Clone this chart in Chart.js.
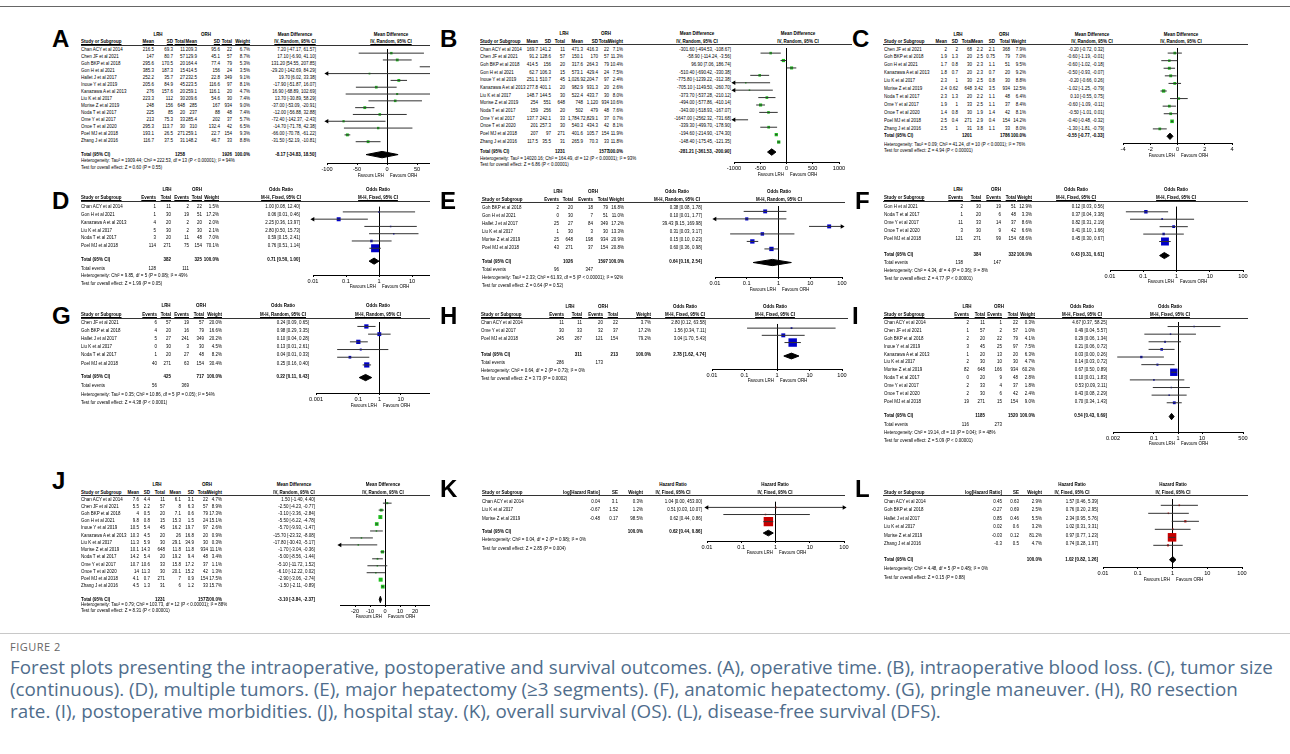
<!DOCTYPE html>
<html>
<head>
<meta charset="utf-8">
<script src="https://cdn.jsdelivr.net/npm/chart.js@4.4.1/dist/chart.umd.min.js"></script>
<style>
body{margin:0;background:#fff;font-family:"Liberation Sans",Arial,sans-serif;}
#page{position:relative;width:1290px;height:754px;overflow:hidden;}
.col{position:absolute;top:0;height:630px;overflow:hidden;}
.t{position:absolute;white-space:nowrap;line-height:1;color:#000;transform-origin:0 0;}
.b{font-weight:bold;}
.u{text-decoration:underline;}
.letter{position:absolute;font-weight:bold;font-size:24px;line-height:24px;color:#000;}
.rule{position:absolute;height:1px;background:#333;}
canvas{position:absolute;}
.cap{position:absolute;left:10px;white-space:nowrap;line-height:1;font-family:"Open Sans",sans-serif;}
</style>
</head>
<body>
<div id="page"></div>
<script>
// ---------- A: operative time ----------
const studiesA = ['Chan ACY et al 2014','Chen JF et al 2021','Goh BKP et al 2018','Gon H et al 2021','Hallet J et al 2017','Inoue Y et al 2019','Kanazawa A et al 2013','Liu K et al 2017','Morise Z et al 2019','Noda T et al 2017','Ome Y et al 2017','Onoe T et al 2020','Poel MJ et al 2018','Zhang J et al 2016'];
const cellsA = [['216.5','69.3','11','209.3','95.6','22'],['147','80.7','57','129.9','45.1','57'],['295.6','170.5','20','164.4','77.4','79'],['385.3','187.3','15','414.5','156','24'],['252.2','35.7','27','232.5','22.8','349'],['205.6','84.9','45','223.5','116.6','97'],['276','157.6','20','259.1','116.1','20'],['223.3','112','30','209.6','54.6','30'],['248','156','648','285','167','934'],['225','85','20','237','88','48'],['213','75.3','33','285.4','202','37'],['295.3','113.7','30','310','132.4','42'],['193.1','26.5','271','259.1','22.7','154'],['116.7','37.5','31','148.2','46.7','33']];
const weightA = [6.7,8.7,5.3,3.5,9.1,8.1,4.7,7.4,9.0,7.4,5.7,6.5,9.3,8.8];
const estA = [7.20,17.10,131.20,-29.20,19.70,-17.90,16.90,13.70,-37.00,-12.00,-72.40,-14.70,-66.00,-31.50];
const lowA = [-47.17,-6.90,54.55,-142.69,6.02,-51.87,-68.89,-30.89,-53.09,-56.88,-142.37,-71.78,-70.78,-52.19];
const highA = [61.57,41.10,207.85,84.29,33.38,16.07,102.69,58.29,-20.91,32.88,-2.43,42.38,-61.22,-10.81];
const nTotA = [1258,1926];
const ciTotA = [-8.17,-34.83,18.50];
const hetA = 'Heterogeneity: Tau² = 1909.44; Chi² = 222.53, df = 13 (P < 0.00001); I² = 94%';
const testA = 'Test for overall effect: Z = 0.60 (P = 0.55)';
const ticksA = [-100,-50,0,50,100];

// ---------- B: intraoperative blood loss ----------
const studiesB = ['Chan ACY et al 2014','Chen JF et al 2021','Goh BKP et al 2018','Gon H et al 2021','Inoue Y et al 2019','Kanazawa A et al 2013','Liu K et al 2017','Morise Z et al 2019','Noda T et al 2017','Ome Y et al 2017','Onoe T et al 2020','Poel MJ et al 2018','Zhang J et al 2016'];
const cellsB = [['169.7','141.2','11','471.3','416.3','22'],['91.2','128.6','57','150.1','170','57'],['414.5','156','20','317.6','264.3','79'],['62.7','106.3','15','573.1','429.4','24'],['251.1','510.7','45','1,026.9','2,204.7','97'],['277.8','401.1','20','982.9','931.3','20'],['148.7','144.5','30','522.4','433.7','30'],['254','551','648','748','1,120','934'],['159','256','20','502','479','48'],['137.7','242.1','33','1,784.7','2,829.1','37'],['201','257.3','30','540.3','434.3','42'],['207','97','271','401.6','105.7','154'],['117.5','35.5','31','265.9','70.3','33']];
const weightB = [7.1,11.3,10.4,7.5,2.4,2.6,8.0,10.6,7.6,0.7,8.1,11.9,11.8];
const estB = [-301.60,-58.90,96.90,-510.40,-775.80,-705.10,-373.70,-494.00,-343.00,-1647.00,-339.30,-194.60,-148.40];
const lowB = [-494.53,-114.24,7.06,-690.42,-1239.22,-1149.50,-537.28,-577.86,-518.93,-2562.32,-499.70,-214.90,-175.45];
const highB = [-108.67,-3.56,186.74,-330.38,-312.38,-260.70,-210.12,-410.14,-167.07,-731.68,-178.90,-174.30,-121.35];
const nTotB = [1231,1577];
const ciTotB = [-281.21,-361.53,-200.90];
const hetB = 'Heterogeneity: Tau² = 14020.16; Chi² = 164.49, df = 12 (P < 0.00001); I² = 93%';
const testB = 'Test for overall effect: Z = 6.86 (P < 0.00001)';
const ticksB = [-1000,-500,0,500,1000];

// ---------- C: tumor size ----------
const studiesC = ['Chen JF et al 2021','Goh BKP et al 2018','Gon H et al 2021','Kanazawa A et al 2013','Liu K et al 2017','Morise Z et al 2019','Noda T et al 2017','Ome Y et al 2017','Onoe T et al 2020','Poel MJ et al 2018','Zhang J et al 2016'];
const cellsC = [['2','2','68','2.2','2.1','368'],['1.9','1.3','20','2.5','0.75','79'],['1.7','0.8','30','2.3','1.1','51'],['1.8','0.7','20','2.3','0.7','20'],['2.3','1','30','2.5','0.8','30'],['2.4','0.62','648','3.42','3.5','934'],['2.3','1.3','20','2.2','1.1','48'],['1.9','1','33','2.5','1.1','37'],['1.4','0.8','30','1.9','1.4','42'],['2.5','0.4','271','2.9','0.4','154'],['2.5','1','31','3.8','1.1','33']];
const weightC = [7.9,7.0,9.5,9.2,8.8,12.5,6.4,8.4,8.1,14.2,8.0];
const estC = [-0.20,-0.60,-0.60,-0.50,-0.20,-1.02,0.10,-0.60,-0.50,-0.40,-1.30];
const lowC = [-0.72,-1.19,-1.02,-0.93,-0.66,-1.25,-0.55,-1.09,-1.01,-0.48,-1.81];
const highC = [0.32,-0.01,-0.18,-0.07,0.26,-0.79,0.75,-0.11,0.01,-0.32,-0.79];
const nTotC = [1201,1786];
const ciTotC = [-0.55,-0.77,-0.33];
const hetC = 'Heterogeneity: Tau² = 0.09; Chi² = 41.24, df = 10 (P < 0.0001); I² = 76%';
const testC = 'Test for overall effect: Z = 4.94 (P < 0.00001)';
const ticksC = [-4,-2,0,2,4];

// ---------- D: multiple tumors ----------
const studiesD = ['Chan ACY et al 2014','Gon H et al 2021','Kanazawa A et al 2013','Liu K et al 2017','Noda T et al 2017','Poel MJ et al 2018'];
const cellsD = [['1','11','2','22'],['1','30','19','51'],['4','20','2','20'],['5','30','2','30'],['3','20','11','48'],['114','271','75','154']];
const weightD = [1.5,17.2,2.0,2.1,7.0,70.1];
const estD = [1.00,0.06,2.25,2.80,0.59,0.76];
const lowD = [0.08,0.008,0.36,0.50,0.15,0.51];
const highD = [12.40,0.46,13.97,15.73,2.41,1.14];
const nTotD = [382,325];
const ciTotD = [0.71,0.50,1.00];
const eventsD = [128,111];
const hetD = 'Heterogeneity: Chi² = 9.85, df = 5 (P = 0.08); I² = 49%';
const testD = 'Test for overall effect: Z = 1.99 (P = 0.05)';
const ticksD = [0.01,0.1,1,10,100];

// ---------- E: major hepatectomy ----------
const studiesE = ['Goh BKP et al 2018','Gon H et al 2021','Hallet J et al 2017','Liu K et al 2017','Morise Z et al 2019','Poel MJ et al 2018'];
const cellsE = [['2','20','18','79'],['0','30','7','51'],['25','27','84','349'],['1','30','3','30'],['25','648','198','934'],['43','271','37','154']];
const weightE = [16.8,11.0,17.2,13.3,20.9,20.8];
const estE = [0.38,0.10,39.43,0.31,0.15,0.60];
const lowE = [0.08,0.006,9.15,0.03,0.10,0.36];
const highE = [1.78,1.77,169.98,3.17,0.23,0.98];
const nTotE = [1026,1597];
const ciTotE = [0.64,0.16,2.54];
const eventsE = [96,347];
const hetE = 'Heterogeneity: Tau² = 2.33; Chi² = 61.93, df = 5 (P < 0.00001); I² = 92%';
const testE = 'Test for overall effect: Z = 0.64 (P = 0.52)';
const ticksE = [0.01,0.1,1,10,100];

// ---------- F: anatomic hepatectomy ----------
const studiesF = ['Gon H et al 2021','Noda T et al 2017','Ome Y et al 2017','Onoe T et al 2020','Poel MJ et al 2018'];
const cellsF = [['2','30','19','51'],['1','20','6','48'],['11','33','14','37'],['3','30','9','42'],['121','271','99','154']];
const weightF = [12.9,3.3,8.6,6.6,68.6];
const estF = [0.12,0.37,0.82,0.41,0.45];
const lowF = [0.03,0.04,0.31,0.10,0.30];
const highF = [0.56,3.38,2.19,1.66,0.67];
const nTotF = [384,332];
const ciTotF = [0.43,0.31,0.61];
const eventsF = [138,147];
const hetF = 'Heterogeneity: Chi² = 4.34, df = 4 (P = 0.36); I² = 8%';
const testF = 'Test for overall effect: Z = 4.77 (P < 0.00001)';
const ticksF = [0.01,0.1,1,10,100];

// ---------- G: pringle maneuver ----------
const studiesG = ['Chen JF et al 2021','Goh BKP et al 2018','Hallet J et al 2017','Liu K et al 2017','Noda T et al 2017','Poel MJ et al 2018'];
const cellsG = [['6','57','19','57'],['4','20','16','79'],['5','27','241','349'],['0','30','3','30'],['1','20','27','48'],['40','271','63','154']];
const weightG = [20.0,16.6,20.2,4.5,8.2,30.4];
const estG = [0.24,0.98,0.10,0.13,0.04,0.25];
const lowG = [0.09,0.29,0.04,0.01,0.01,0.16];
const highG = [0.65,3.35,0.28,2.61,0.33,0.40];
const nTotG = [425,717];
const ciTotG = [0.22,0.11,0.43];
const eventsG = [56,369];
const hetG = 'Heterogeneity: Tau² = 0.35; Chi² = 10.86, df = 5 (P = 0.05); I² = 54%';
const testG = 'Test for overall effect: Z = 4.38 (P < 0.0001)';
const ticksG = [0.001,0.1,1,10,1000];

// ---------- H: R0 resection ----------
const studiesH = ['Chan ACY et al 2014','Ome Y et al 2017','Poel MJ et al 2018'];
const cellsH = [['11','11','20','22'],['30','33','32','37'],['245','267','121','154']];
const weightH = [3.7,17.2,79.2];
const estH = [2.80,1.56,3.04];
const lowH = [0.12,0.34,1.70];
const highH = [63.58,7.11,5.43];
const nTotH = [311,213];
const ciTotH = [2.78,1.62,4.74];
const eventsH = [286,173];
const hetH = 'Heterogeneity: Chi² = 0.64, df = 2 (P = 0.73); I² = 0%';
const testH = 'Test for overall effect: Z = 3.73 (P = 0.0002)';
const ticksH = [0.01,0.1,1,10,100];

// ---------- I: postoperative morbidities ----------
const studiesI = ['Chan ACY et al 2014','Chen JF et al 2021','Goh BKP et al 2018','Inoue Y et al 2019','Kanazawa A et al 2013','Liu K et al 2017','Morise Z et al 2019','Noda T et al 2017','Ome Y et al 2017','Onoe T et al 2020','Poel MJ et al 2018'];
const cellsI = [['2','11','1','22'],['1','57','2','57'],['2','20','22','79'],['3','45','25','97'],['1','20','13','20'],['2','30','10','30'],['82','648','166','934'],['0','20','9','48'],['2','33','4','37'],['2','30','6','42'],['19','271','15','154']];
const weightI = [0.3,1.0,4.1,7.5,6.3,4.7,60.2,2.8,1.8,2.4,9.0];
const estI = [4.67,0.49,0.29,0.21,0.03,0.14,0.67,0.10,0.53,0.43,0.70];
const lowI = [0.37,0.04,0.06,0.06,0.003,0.03,0.50,0.01,0.09,0.08,0.34];
const highI = [58.25,5.57,1.34,0.72,0.26,0.72,0.89,1.83,3.11,2.29,1.43];
const nTotI = [1185,1520];
const ciTotI = [0.54,0.43,0.69];
const eventsI = [116,273];
const hetI = 'Heterogeneity: Chi² = 19.14, df = 10 (P = 0.04); I² = 48%';
const testI = 'Test for overall effect: Z = 5.09 (P < 0.00001)';
const ticksI = [0.002,0.1,1,10,500];

// ---------- J: hospital stay ----------
const studiesJ = ['Chan ACY et al 2014','Chen JF et al 2021','Goh BKP et al 2018','Gon H et al 2021','Inoue Y et al 2019','Kanazawa A et al 2013','Liu K et al 2017','Morise Z et al 2019','Noda T et al 2017','Ome Y et al 2017','Onoe T et al 2020','Poel MJ et al 2018','Zhang J et al 2016'];
const cellsJ = [['7.6','4.4','11','6.1','3.1','22'],['5.5','2.2','57','8','6.3','57'],['4','0.5','20','7.1','0.6','79'],['9.8','0.8','15','15.3','1.5','24'],['10.5','5.4','45','16.2','19.7','97'],['10.3','4.5','20','26','16.8','20'],['11.3','5.9','30','29.1','34.9','30'],['10.1','14.3','648','11.8','11.8','934'],['14.2','5.4','20','19.2','9.4','48'],['10.7','10.6','33','15.8','17.2','37'],['14','11.3','30','20.1','15.2','42'],['4.1','0.7','271','7','0.9','154'],['4.5','1.3','31','6','1.2','33']];
const weightJ = [4.7,8.9,17.3,15.1,2.6,0.9,0.3,11.1,3.4,1.1,1.3,17.5,15.7];
const estJ = [1.50,-2.50,-3.10,-5.50,-5.70,-15.70,-17.80,-1.70,-5.00,-5.10,-6.10,-2.90,-1.50];
const lowJ = [-1.40,-4.23,-3.36,-6.22,-9.93,-23.32,-30.43,-3.04,-8.56,-11.72,-12.22,-3.06,-2.11];
const highJ = [4.40,-0.77,-2.84,-4.78,-1.47,-8.08,-5.17,-0.36,-1.44,1.52,0.02,-2.74,-0.89];
const nTotJ = [1231,1577];
const ciTotJ = [-3.10,-3.84,-2.37];
const hetJ = 'Heterogeneity: Tau² = 0.79; Chi² = 103.73, df = 12 (P < 0.00001); I² = 88%';
const testJ = 'Test for overall effect: Z = 8.31 (P < 0.00001)';
const ticksJ = [-20,-10,0,10,20];
const rangeJ = [-30,30];

// ---------- K: overall survival ----------
const studiesK = ['Chan ACY et al 2014','Liu K et al 2017','Morise Z et al 2019'];
const cellsK = [['0.04','3.1'],['-0.67','1.52'],['-0.48','0.17']];
const weightK = [0.3,1.2,98.5];
const estK = [1.04,0.51,0.62];
const lowK = [0.0024,0.03,0.44];
const highK = [453.00,10.07,0.86];
const ciTotK = [0.62,0.44,0.86];
const hetK = 'Heterogeneity: Chi² = 0.04, df = 2 (P = 0.98); I² = 0%';
const testK = 'Test for overall effect: Z = 2.85 (P = 0.004)';
const ticksK = [0.01,0.1,1,10,100];

// ---------- L: disease-free survival ----------
const studiesL = ['Chan ACY et al 2014','Goh BKP et al 2018','Hallet J et al 2017','Liu K et al 2017','Morise Z et al 2019','Zhang J et al 2016'];
const cellsL = [['0.45','0.63'],['-0.27','0.69'],['0.85','0.46'],['0.02','0.6'],['-0.03','0.12'],['-0.3','0.5']];
const weightL = [2.9,2.5,5.5,3.2,81.2,4.7];
const estL = [1.57,0.76,2.34,1.02,0.97,0.74];
const lowL = [0.46,0.20,0.95,0.31,0.77,0.28];
const highL = [5.39,2.95,5.76,3.31,1.23,1.97];
const ciTotL = [1.02,0.82,1.26];
const hetL = 'Heterogeneity: Chi² = 4.48, df = 5 (P = 0.48); I² = 0%';
const testL = 'Test for overall effect: Z = 0.15 (P = 0.88)';
const ticksL = [0.01,0.1,1,10,100];

const captionLines = [
  'Forest plots presenting the intraoperative, postoperative and survival outcomes. (A), operative time. (B), intraoperative blood loss. (C), tumor size',
  '(continuous). (D), multiple tumors. (E), major hepatectomy (≥3 segments). (F), anatomic hepatectomy. (G), pringle maneuver. (H), R0 resection',
  'rate. (I), postoperative morbidities. (J), hospital stay. (K), overall survival (OS). (L), disease-free survival (DFS).'
];

// ---------- layout (page pixels) ----------
const K = 0.8;   // horizontal squeeze of the table text
const FS = 5.6;
const colX = [0, 430, 852], colW = [430, 422, 438];
const GREEN = '#1fbf1f', BLUE = '#0000c8', RED = '#c80000';

const layA = {col:0, letter:[52,30], h1:34.3, h2:41.7, rule:45, ruleX:[80.5,470], y0:49.3, dy:7.05, tot:154.3, het:160.5, test:167.5, axis:163.3,
  nameX:80.7, colR:[154.3,172.7,185,196.7,220,231.7], wR:250, ciR:315.7, grp:[158,206.3], ciHd:295, plotHd:390.7, px:[326.7,447]};
const layB = {col:1, letter:[440,30], h1:34, h2:41.3, rule:44.3, ruleX:[480,852], y0:49.3, dy:7.67, tot:151.7, het:158.5, test:165, axis:162.3,
  nameX:480, colR:[538.3,551,565,583.3,598.3,609], wR:622.7, ciR:730.7, grp:[564,606], ciHd:696.7, plotHd:798.3, px:[734.3,839]};
const layC = {col:2, letter:[852,30], h1:34.3, h2:41.7, rule:44.3, ruleX:[883,1248], y0:49.3, dy:7.9, tot:136, het:145, test:150.7, axis:143.3,
  nameX:884, colR:[946.7,958.3,972.3,983.3,995,1010], wR:1025.7, ciR:1104.3, grp:[957.5,1004], ciHd:1092, plotHd:1181, px:[1123,1231.7]};
const layD = {col:0, letter:[52,192], h1:189.3, h2:197.7, rule:200.7, ruleX:[80.5,470], y0:206.7, dy:7.87, tot:260, ev:269, het:276, test:283.3, axis:275,
  nameX:80.7, colR:[156,170.7,189.3,201.7], wR:219.3, ciR:300, grp:[167,197], ciHd:281.3, plotHd:378.3, px:[313.3,445.3]};
const layE = {col:1, letter:[440,192], h1:191.7, h2:199.3, rule:201.7, ruleX:[481,845], y0:207.7, dy:7.93, tot:261.7, ev:270, het:277.3, test:286, axis:277.3,
  nameX:481.7, colR:[559,573.3,593.3,608.3], wR:624.3, ciR:701.7, grp:[557.7,592.5], ciHd:676.7, plotHd:779.3, px:[715,842]};
const layF = {col:2, letter:[855,192], h1:190, h2:197.7, rule:200.7, ruleX:[883,1248], y0:206.7, dy:8.08, tot:254.3, ev:262.7, het:271, test:278.3, axis:270,
  nameX:884, colR:[963.3,981,1001,1015.7], wR:1032.3, ciR:1104.3, grp:[958.3,995.5], ciHd:1076, plotHd:1176, px:[1110,1243.3]};
const layG = {col:0, letter:[52,307], h1:306, h2:315, rule:318.3, ruleX:[80.5,470], y0:322.7, dy:8.13, tot:376.7, ev:386, het:394.3, test:402.3, axis:393.3,
  nameX:80.7, colR:[156.7,170.7,189.3,204], wR:221.7, ciR:309.3, grp:[166,200.8], ciHd:282.5, plotHd:377.5, px:[315.7,442.3]};
const layH = {col:1, letter:[440,307], h1:306.7, h2:315, rule:318.3, ruleX:[481,848], y0:322.7, dy:8.17, tot:354.3, ev:362.3, het:370.7, test:378.3, axis:369,
  nameX:481, colR:[564.3,581.7,603.3,617.7], wR:650.7, ciR:705.7, grp:[570,603], ciHd:685, plotHd:775, px:[711.7,841.7]};
const layI = {col:2, letter:[852,307], h1:306.7, h2:315, rule:318.3, ruleX:[883,1248], y0:322.7, dy:7.9, tot:416, ev:424.3, het:432.7, test:441, axis:431.7,
  nameX:884, colR:[969,985,1001.7,1018.3], wR:1035, ciR:1107.3, grp:[967,999], ciHd:1081.7, plotHd:1170, px:[1113.3,1243.3]};
const layJ = {col:0, letter:[52,472], h1:484.3, h2:492.3, rule:495, ruleX:[80.5,470], y0:499.3, dy:7.22, tot:599.3, het:605, test:611, axis:605,
  nameX:80.7, colR:[139.3,150,165,180.7,194,208.3], wR:221.7, ciR:315, grp:[157,206.7], ciHd:293.5, plotHd:382.5, px:[340,430]};
const layK = {col:1, letter:[440,480], h1:484.3, h2:492.3, rule:495, ruleX:[482,845], y0:501.7, dy:8.33, tot:531.7, het:540, test:548.3, axis:540.7,
  nameX:481.7, colR:[600,618.3], wR:643.3, ciR:701.7, ciHd:673.2, plotHd:775, px:[706.7,843.3]};
const layL = {col:2, letter:[855,480], h1:484.3, h2:492.3, rule:495, ruleX:[883,1248], y0:501.7, dy:8.47, tot:559.3, het:569, test:577.7, axis:567.3,
  nameX:884, colR:[1001.7,1019.3], wR:1041.7, ciR:1097.7, ciHd:1071.7, plotHd:1172.5, px:[1103.3,1242.7]};
const capLay = {rule:633, fig:647, line0:668, pitch:22, width:1264};

// ---------- drawing ----------
Chart.defaults.font.family = '"Liberation Sans", Arial, sans-serif';
const page = document.getElementById('page');
const cols = colX.map((x, i) => {
  const d = document.createElement('div');
  d.className = 'col';
  d.style.left = x + 'px';
  d.style.width = colW[i] + 'px';
  page.appendChild(d);
  return d;
});

function txt(c, s, x, y, al, cls) {
  const d = document.createElement('div');
  d.className = 't' + (cls ? ' ' + cls : '');
  d.textContent = s;
  d.style.fontSize = FS + 'px';
  d.style.left = (x - colX[c]) + 'px';
  d.style.top = (y - FS * 0.49) + 'px';
  const sh = al === 'r' ? ' translateX(-100%)' : al === 'c' ? ' translateX(-50%)' : '';
  d.style.transform = 'scaleX(' + K + ')' + sh;
  cols[c].appendChild(d);
}
const f2 = v => v.toFixed(2);
const ciText = (e, l, h) => f2(e) + ' [' + f2(l) + ', ' + f2(h) + ']';

function table(L, D) {
  const c = L.col;
  const lt = document.createElement('div');
  lt.className = 'letter';
  lt.textContent = D.letter;
  lt.style.left = (L.letter[0] - colX[c]) + 'px';
  lt.style.top = (L.letter[1] - 3) + 'px';
  cols[c].appendChild(lt);

  const measure = {md:'Mean Difference', or:'Odds Ratio', hr:'Hazard Ratio'}[D.kind];
  const hdr = {md:['Mean','SD','Total','Mean','SD','Total'], or:['Events','Total','Events','Total'], hr:['log[Hazard Ratio]','SE']}[D.kind];
  if (L.grp) { txt(c, 'LRH', L.grp[0], L.h1, 'c', 'b'); txt(c, 'ORH', L.grp[1], L.h1, 'c', 'b'); }
  txt(c, measure, L.ciHd, L.h1, 'c', 'b');
  txt(c, measure, L.plotHd, L.h1, 'c', 'b');
  txt(c, 'Study or Subgroup', L.nameX, L.h2, 'l', 'b u');
  hdr.forEach((h, j) => txt(c, h, L.colR[j], L.h2, 'r', 'b u'));
  txt(c, 'Weight', L.wR, L.h2, 'r', 'b u');
  txt(c, D.model, L.ciHd, L.h2, 'c', 'b u');
  txt(c, D.model, L.plotHd, L.h2, 'c', 'b u');
  const r = document.createElement('div');
  r.className = 'rule';
  r.style.left = (L.ruleX[0] - colX[c]) + 'px';
  r.style.width = (L.ruleX[1] - L.ruleX[0]) + 'px';
  r.style.top = Math.round(L.rule) + 'px';
  cols[c].appendChild(r);

  D.studies.forEach((s, i) => {
    const y = L.y0 + i * L.dy;
    txt(c, s, L.nameX, y, 'l');
    D.cells[i].forEach((v, j) => txt(c, v, L.colR[j], y, 'r'));
    txt(c, D.weight[i].toFixed(1) + '%', L.wR, y, 'r');
    txt(c, ciText(D.est[i], D.low[i], D.high[i]), L.ciR, y, 'r');
  });
  txt(c, 'Total (95% CI)', L.nameX, L.tot, 'l', 'b');
  if (D.nTot) {
    const j1 = D.kind === 'md' ? 2 : 1, j2 = D.kind === 'md' ? 5 : 3;
    txt(c, String(D.nTot[0]), L.colR[j1], L.tot, 'r', 'b');
    txt(c, String(D.nTot[1]), L.colR[j2], L.tot, 'r', 'b');
  }
  txt(c, '100.0%', L.wR, L.tot, 'r', 'b');
  txt(c, ciText(D.ciTot[0], D.ciTot[1], D.ciTot[2]), L.ciR, L.tot, 'r', 'b');
  if (D.events) {
    txt(c, 'Total events', L.nameX, L.ev, 'l');
    txt(c, String(D.events[0]), L.colR[0], L.ev, 'r');
    txt(c, String(D.events[1]), L.colR[2], L.ev, 'r');
  }
  txt(c, D.het, L.nameX, L.het, 'l');
  txt(c, D.test, L.nameX, L.test, 'l');
}

function forest(L, D) {
  const c = L.col;
  const xmin = D.range ? D.range[0] : D.ticks[0];
  const xmax = D.range ? D.range[1] : D.ticks[D.ticks.length - 1];
  const nullV = D.kind === 'md' ? 0 : 1;
  const AXH = 16, PAD = 20;
  const left = Math.round(L.px[0]) - PAD, top = Math.round(L.rule);
  const W = Math.round(L.px[1] - L.px[0]) + 2 * PAD;
  const areaH = Math.round(L.axis) - top;
  const cv = document.createElement('canvas');
  cv.width = W; cv.height = areaH + AXH;
  cv.style.left = (left - colX[c]) + 'px';
  cv.style.top = top + 'px';
  cols[c].appendChild(cv);

  const ymin = (top - L.y0) / L.dy, ymax = ymin + areaH / L.dy;
  const totIdx = (L.tot - L.y0) / L.dy;
  const clampX = v => Math.min(xmax, Math.max(xmin, v));
  const sets = [];
  D.est.forEach((e, i) => {
    const a = D.low[i], b = D.high[i];
    sets.push({
      data: [{x: clampX(a), y: i}, {x: clampX(b), y: i}],
      borderColor: '#333', borderWidth: 1,
      pointStyle: 'triangle', pointRotation: [-90, 90],
      pointRadius: [a <= xmin ? 2.6 : 0, b >= xmax ? 2.6 : 0],
      pointBackgroundColor: '#000', pointBorderWidth: 0, clip: 5
    });
  });
  sets.push({
    data: D.est.map((e, i) => ({x: e, y: i})),
    showLine: false, pointStyle: 'rect',
    pointRadius: D.weight.map(w => Math.max(1.5, 0.95 * Math.sqrt(w)) / Math.SQRT2),
    pointBackgroundColor: D.color, pointBorderWidth: 0
  });
  const h = 3.3 / L.dy, t = D.ciTot;
  sets.push({
    data: [{x: t[1], y: totIdx}, {x: t[0], y: totIdx - h}, {x: t[2], y: totIdx}, {x: t[0], y: totIdx + h}, {x: t[1], y: totIdx}],
    fill: 'shape', backgroundColor: '#000', borderColor: '#000', borderWidth: 1, pointRadius: 0, clip: 5
  });

  const chart = new Chart(cv, {
    type: 'line',
    data: {datasets: sets},
    options: {
      responsive: false, animation: false, devicePixelRatio: 1, events: [],
      layout: {padding: {left: PAD, right: PAD, top: 0, bottom: 0}},
      plugins: {legend: {display: false}, tooltip: {enabled: false}},
      elements: {line: {tension: 0}},
      scales: {
        x: {
          type: D.log ? 'logarithmic' : 'linear', min: xmin, max: xmax, offset: false,
          afterBuildTicks: s => { s.ticks = D.ticks.map(v => ({value: v})); },
          afterFit: s => { s.height = AXH; },
          ticks: {callback: v => String(v), color: '#000', font: {size: 5.6}, padding: 1, autoSkip: false, maxRotation: 0, minRotation: 0},
          grid: {color: ctx => (ctx.tick && ctx.tick.value === nullV) ? '#000' : 'rgba(0,0,0,0)', tickColor: '#000', tickLength: 2, lineWidth: 1, drawOnChartArea: true},
          border: {display: true, color: '#000', width: 1}
        },
        y: {type: 'linear', display: false, reverse: true, min: ymin, max: ymax}
      }
    }
  });
  const nullPx = left + chart.scales.x.getPixelForValue(nullV);
  txt(c, 'Favours LRH', nullPx - 3, L.axis + 12, 'r');
  txt(c, 'Favours ORH', nullPx + 3, L.axis + 12, 'l');
}

const panels = [
  [layA, {letter:'A', kind:'md', model:'IV, Random, 95% CI', studies:studiesA, cells:cellsA, weight:weightA, est:estA, low:lowA, high:highA, nTot:nTotA, ciTot:ciTotA, het:hetA, test:testA, ticks:ticksA, log:false, color:GREEN}],
  [layB, {letter:'B', kind:'md', model:'IV, Random, 95% CI', studies:studiesB, cells:cellsB, weight:weightB, est:estB, low:lowB, high:highB, nTot:nTotB, ciTot:ciTotB, het:hetB, test:testB, ticks:ticksB, log:false, color:GREEN}],
  [layC, {letter:'C', kind:'md', model:'IV, Random, 95% CI', studies:studiesC, cells:cellsC, weight:weightC, est:estC, low:lowC, high:highC, nTot:nTotC, ciTot:ciTotC, het:hetC, test:testC, ticks:ticksC, log:false, color:GREEN}],
  [layD, {letter:'D', kind:'or', model:'M-H, Fixed, 95% CI', studies:studiesD, cells:cellsD, weight:weightD, est:estD, low:lowD, high:highD, nTot:nTotD, ciTot:ciTotD, events:eventsD, het:hetD, test:testD, ticks:ticksD, log:true, color:BLUE}],
  [layE, {letter:'E', kind:'or', model:'M-H, Random, 95% CI', studies:studiesE, cells:cellsE, weight:weightE, est:estE, low:lowE, high:highE, nTot:nTotE, ciTot:ciTotE, events:eventsE, het:hetE, test:testE, ticks:ticksE, log:true, color:BLUE}],
  [layF, {letter:'F', kind:'or', model:'M-H, Fixed, 95% CI', studies:studiesF, cells:cellsF, weight:weightF, est:estF, low:lowF, high:highF, nTot:nTotF, ciTot:ciTotF, events:eventsF, het:hetF, test:testF, ticks:ticksF, log:true, color:BLUE}],
  [layG, {letter:'G', kind:'or', model:'M-H, Random, 95% CI', studies:studiesG, cells:cellsG, weight:weightG, est:estG, low:lowG, high:highG, nTot:nTotG, ciTot:ciTotG, events:eventsG, het:hetG, test:testG, ticks:ticksG, log:true, color:BLUE}],
  [layH, {letter:'H', kind:'or', model:'M-H, Fixed, 95% CI', studies:studiesH, cells:cellsH, weight:weightH, est:estH, low:lowH, high:highH, nTot:nTotH, ciTot:ciTotH, events:eventsH, het:hetH, test:testH, ticks:ticksH, log:true, color:BLUE}],
  [layI, {letter:'I', kind:'or', model:'M-H, Fixed, 95% CI', studies:studiesI, cells:cellsI, weight:weightI, est:estI, low:lowI, high:highI, nTot:nTotI, ciTot:ciTotI, events:eventsI, het:hetI, test:testI, ticks:ticksI, log:true, color:BLUE}],
  [layJ, {letter:'J', kind:'md', model:'IV, Random, 95% CI', studies:studiesJ, cells:cellsJ, weight:weightJ, est:estJ, low:lowJ, high:highJ, nTot:nTotJ, ciTot:ciTotJ, het:hetJ, test:testJ, ticks:ticksJ, range:rangeJ, log:false, color:GREEN}],
  [layK, {letter:'K', kind:'hr', model:'IV, Fixed, 95% CI', studies:studiesK, cells:cellsK, weight:weightK, est:estK, low:lowK, high:highK, ciTot:ciTotK, het:hetK, test:testK, ticks:ticksK, log:true, color:RED}],
  [layL, {letter:'L', kind:'hr', model:'IV, Fixed, 95% CI', studies:studiesL, cells:cellsL, weight:weightL, est:estL, low:lowL, high:highL, ciTot:ciTotL, het:hetL, test:testL, ticks:ticksL, log:true, color:RED}]
];
panels.forEach(([L, D]) => { table(L, D); forest(L, D); });

// page rules + caption
function hline(y, color) {
  const d = document.createElement('div');
  d.style.cssText = 'position:absolute;left:0;width:1290px;height:1px;top:' + y + 'px;background:' + color;
  page.appendChild(d);
}
hline(6, '#666');
hline(capLay.rule, '#c8c8c8');
const fig = document.createElement('div');
fig.className = 'cap';
fig.style.cssText += 'top:' + (capLay.fig - 6) + 'px;font-size:11px;color:#666;letter-spacing:0.5px;';
fig.textContent = 'FIGURE 2';
page.appendChild(fig);
// the caption wraps at the text column, so its first line fills the column width
const capDivs = captionLines.map(s => {
  const d = document.createElement('div');
  d.className = 'cap';
  d.style.fontSize = '16px';
  d.style.color = '#4f6d8c';
  d.textContent = s;
  page.appendChild(d);
  return d;
});
const capFs = 16 * capLay.width / capDivs[0].getBoundingClientRect().width;
capDivs.forEach((d, i) => {
  d.style.fontSize = capFs + 'px';
  d.style.top = (capLay.line0 + i * capLay.pitch - capFs * 0.55) + 'px';
});
</script>
</body>
</html>
